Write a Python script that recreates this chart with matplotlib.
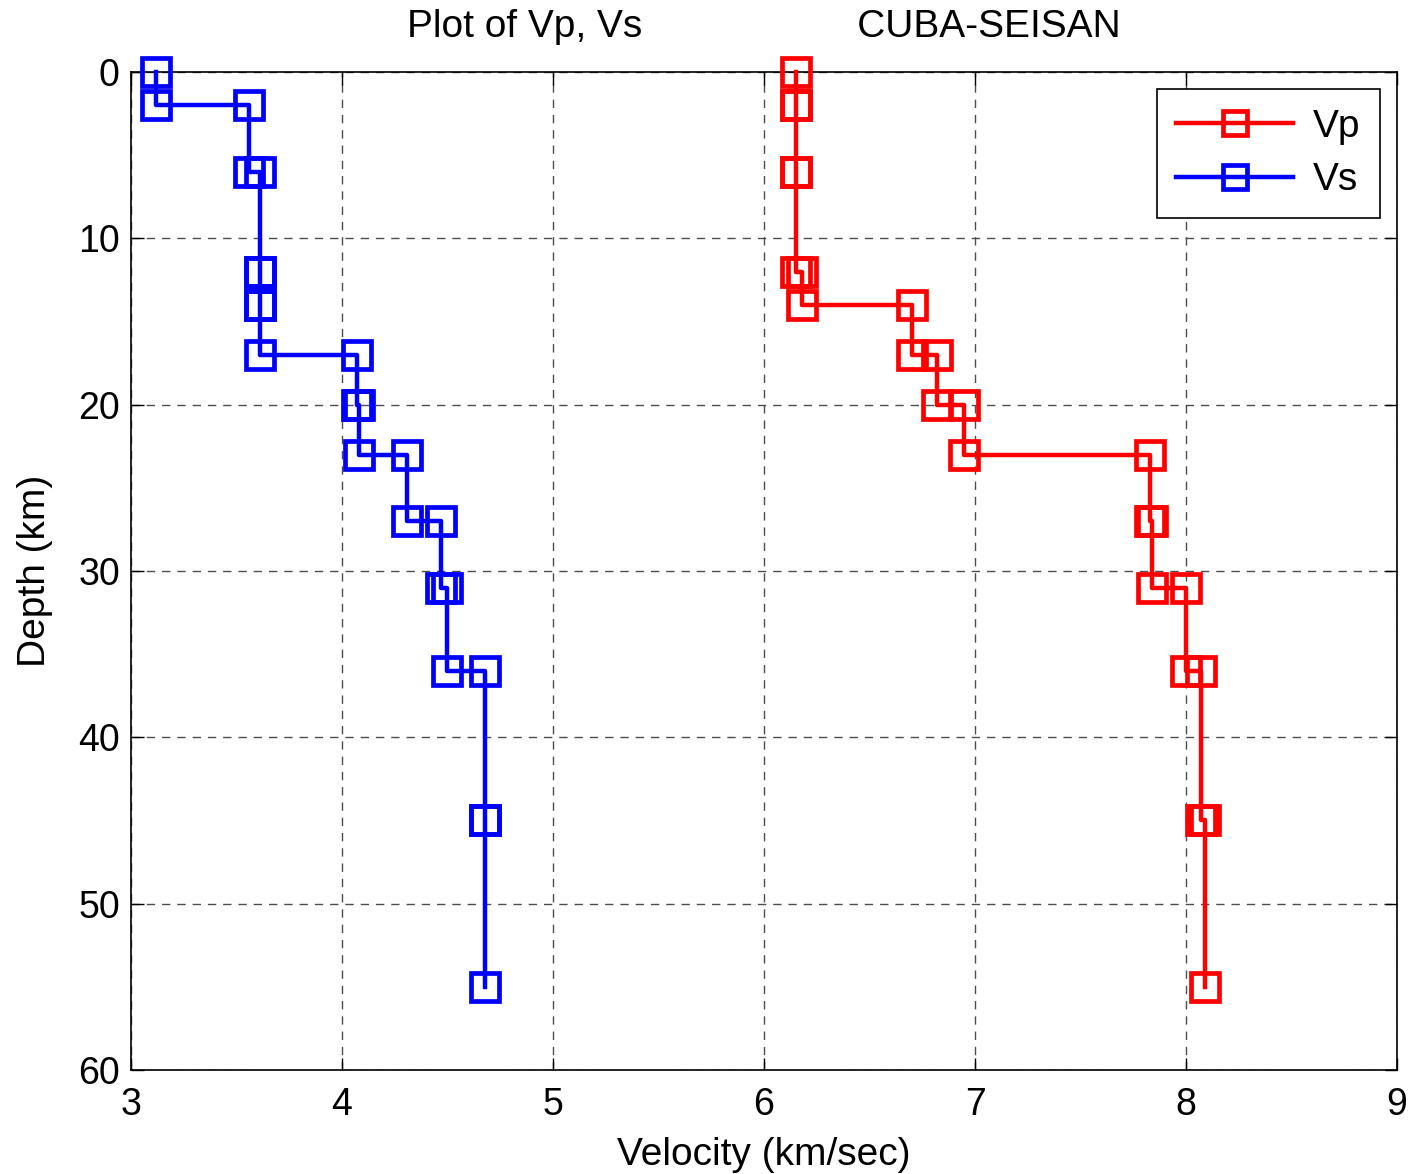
import numpy as np
import matplotlib
matplotlib.use("Agg")
import matplotlib.pyplot as plt

plt.rcParams['font.family'] = ['Liberation Sans', 'DejaVu Sans']

# layer boundaries (km) and layer velocities (km/s)
layer_tops = [0, 2, 6, 12, 14, 17, 20, 23, 27, 31, 36, 45, 55]
vp = [6.15, 6.15, 6.15, 6.18, 6.70, 6.82, 6.95, 7.83, 7.84, 8.00, 8.07, 8.09]
vs = [3.12, 3.56, 3.61, 3.61, 3.61, 4.07, 4.08, 4.31, 4.47, 4.50, 4.68, 4.68]

x_ticks = [3, 4, 5, 6, 7, 8, 9]
y_ticks = [0, 10, 20, 30, 40, 50, 60]


def step_profile(tops, vel):
    # each layer drawn as (v, top) -> (v, bottom)
    tops = np.array(tops)
    depth = np.column_stack([tops[:-1], tops[1:]]).ravel()
    v = np.repeat(vel, 2)
    return v, depth


fig = plt.figure(figsize=(14.14, 11.74), dpi=100)
ax = fig.add_axes([0.0926, 0.0886, 0.8954, 0.8501])

style = dict(linewidth=3.2, marker='s', markersize=20, markerfacecolor='none',
             markeredgewidth=3.4, clip_on=False)

v, d = step_profile(layer_tops, vp)
ax.plot(v, d, color='#ff0000', label='Vp', zorder=3, **style)
v, d = step_profile(layer_tops, vs)
ax.plot(v, d, color='#0000ff', label='Vs', zorder=3, **style)

ax.set_xlim(3, 9)
ax.set_ylim(60, 0)
ax.set_xticks(x_ticks)
ax.set_yticks(y_ticks)
ax.tick_params(direction='in', length=9, width=1, labelsize=27,
               top=True, right=True)
ax.tick_params(axis='x', pad=12)
ax.tick_params(axis='y', pad=8)
for s in ax.spines.values():
    s.set_linewidth(1.2)

ax.grid(True, color='0.3', linestyle=(0, (6, 5)), linewidth=1.0)
ax.set_axisbelow(True)

ax.set_xlabel('Velocity (km/sec)', fontsize=28, labelpad=10)
ax.set_ylabel('Depth (km)', fontsize=28, labelpad=18)
ax.set_title('Plot of Vp, Vs                    CUBA-SEISAN', fontsize=28, pad=25)

leg = ax.legend(loc='upper right', fontsize=28, handlelength=3.0,
                fancybox=False, framealpha=1, edgecolor='black',
                borderaxespad=0.45, borderpad=0.5, labelspacing=0.45,
                handletextpad=0.5, markerscale=0.85)
leg.get_frame().set_linewidth(1.2)

fig.savefig('out.png', dpi=100)
